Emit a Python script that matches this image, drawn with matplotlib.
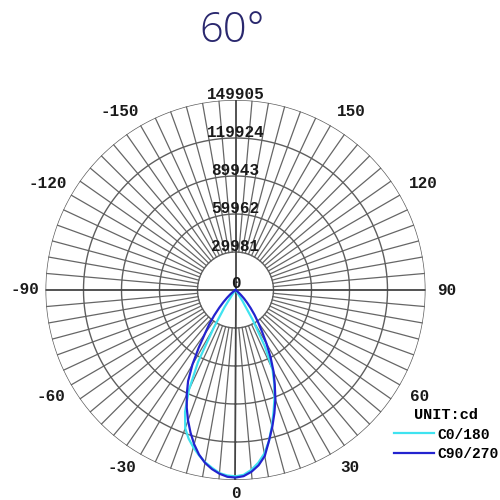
import numpy as np
import matplotlib
matplotlib.use("Agg")
import matplotlib.pyplot as plt

# ---- data ----
angles_deg = [-60, -57.5, -55, -52.5, -50, -47.5, -45, -42.5, -40, -37.5, -35, -32.5, -30, -27.5,
              -25, -22.5, -20, -17.5, -15, -12.5, -10, -7.5, -5, -2.5, 0, 2.5, 5, 7.5, 10, 12.5,
              15, 17.5, 20, 22.5, 25, 27.5, 30, 32.5, 35, 37.5, 40, 42.5, 45, 47.5, 50, 52.5,
              55, 57.5, 60]
c0_180 = [0, 0, 0, 0, 0, 0, 0, 0, 0, 0, 4000, 16000, 34000, 64000,
          87000, 104000, 116000, 123000, 128500, 133500, 138000, 141500, 145000, 146500, 147000, 146000, 142500, 137500, 131000, 122000,
          111000, 100000, 90000, 80000, 69000, 50000, 27000, 10000, 2000, 0, 0, 0, 0, 0, 0, 0,
          0, 0, 0]
c90_270 = [0, 500, 1500, 3000, 5500, 9000, 13500, 19000, 26000, 34000, 42000, 54000, 68000, 81000,
           91000, 100500, 109500, 118000, 126000, 133000, 138500, 142500, 145500, 147500, 148000, 147000, 144000, 139500, 133000, 122000,
           112000, 102000, 92000, 81000, 71000, 60000, 49000, 39000, 31000, 24500, 18500, 13500, 9500, 6000, 3500, 2000,
           1000, 300, 0]
ring_values = [29981, 59962, 89943, 119924, 149905]
ring_labels = ["29981", "59962", "89943", "119924", "149905"]
angle_ticks = [-150, -120, -90, -60, -30, 0, 30, 60, 90, 120, 150]
series_names = ["C0/180", "C90/270"]
series_colors = ["#3FE3F0", "#2323CF"]
title = "60°"
unit_text = "UNIT:cd"

rmax = ring_values[-1]
R_PX = 190.0

fig = plt.figure(figsize=(5, 5), dpi=100)
ax = fig.add_axes([0.091, 0.04, 0.76, 0.76], projection="polar")
ax.set_theta_zero_location("S")
ax.set_theta_direction(1)
ax.set_ylim(0, rmax)
ax.set_xticks([])
ax.set_yticks([])
ax.grid(False)
ax.spines["polar"].set_visible(False)
ax.patch.set_alpha(0)

# spokes every 5 degrees from first ring outward
for a in range(0, 360, 5):
    if a % 90 == 0:
        continue
    t = np.deg2rad(a)
    ax.plot([t, t], [ring_values[0], rmax], color="#666666", lw=0.9, zorder=1)
# rings
tt = np.linspace(0, 2 * np.pi, 721)
for r in ring_values:
    ax.plot(tt, np.full_like(tt, r), color="#5e5e5e", lw=1.0, zorder=1)
# main axes through the centre
ax.plot([0, 0, np.pi], [rmax, 0, rmax], color="#444444", lw=1.3, zorder=2)
ax.plot([np.pi / 2, 0, 3 * np.pi / 2], [rmax, 0, rmax], color="#444444", lw=1.3, zorder=2)

lab_font = dict(family="Liberation Mono", weight="bold", size=11.5, color="#1a1a1a")

# ring labels on the top axis
for r, lab in zip(ring_values, ring_labels):
    ax.text(np.pi, r + 5.5 / R_PX * rmax, lab, ha="center", va="center", zorder=3, **lab_font)
ax.text(np.pi, 6.5 / R_PX * rmax, "0", ha="center", va="center", zorder=3, **lab_font)

# angle labels (placement angle / radius in px)
place = {-150: (-147, 213), -120: (-119.5, 216), -90: (-90, 211), -60: (-60, 213), -30: (-32.7, 211),
         0: (0, 203), 30: (32.7, 211), 60: (60, 213), 90: (90, 211), 120: (119.5, 216), 150: (147, 213)}
for a in angle_ticks:
    pa, pr = place[a]
    ax.text(np.deg2rad(pa), pr / R_PX * rmax, str(a), ha="center", va="center", clip_on=False, **lab_font)

# curves
th = np.deg2rad(angles_deg)
l1, = ax.plot(th, c0_180, color=series_colors[0], lw=1.6, zorder=4, label=series_names[0])
l2, = ax.plot(th, c90_270, color=series_colors[1], lw=1.6, zorder=5, label=series_names[1])

leg = fig.legend(handles=[l1, l2], loc="upper right", bbox_to_anchor=(1.0, 1 - 407 / 500),
                 frameon=False, title=unit_text, handlelength=2.7, handletextpad=0.25,
                 borderaxespad=0, borderpad=0.1, labelspacing=0.35,
                 prop=dict(family="Liberation Mono", weight="bold", size=10.5))
leg.get_title().set_fontfamily("Liberation Mono")
leg.get_title().set_fontweight("bold")
leg.get_title().set_fontsize(11)

fig.text(0.465, 1 - 31 / 500, title, ha="center", va="center", fontsize=30,
         color="#2a286e", family="Open Sans", weight="light")

fig.savefig("out.png", dpi=100)
